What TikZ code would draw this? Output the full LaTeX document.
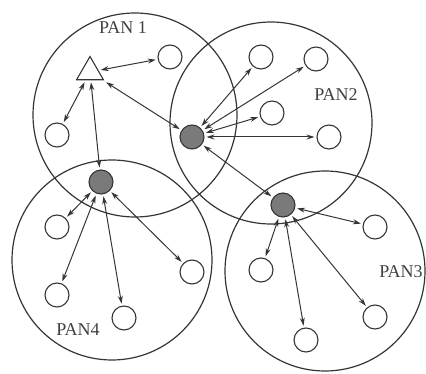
\documentclass[tikz,border=0pt]{standalone}
\usepackage{fontspec}
\setmainfont{Liberation Serif}
\usetikzlibrary{arrows.meta,shapes.geometric}
\definecolor{linec}{HTML}{353535}
\definecolor{hubgray}{HTML}{7A7A7A}
\definecolor{textc}{HTML}{404040}
\begin{document}
\begin{tikzpicture}[x=1pt,y=-1pt,
  pan/.style={draw=linec, line width=1.2pt},
  dev/.style={circle, draw=linec, fill=white, line width=1.1pt, minimum size=24pt, inner sep=0pt, outer sep=2.5pt},
  hub/.style={dev, fill=hubgray},
  gate/.style={regular polygon, regular polygon sides=3, draw=linec, fill=white, line width=1.1pt, minimum size=31pt, inner sep=0pt, outer sep=2.5pt},
  link/.style={draw=linec, line width=1pt, {Stealth[length=8pt,width=5pt]}-{Stealth[length=8pt,width=5pt]}},
  lbl/.style={font=\fontsize{18}{18}\selectfont, text=textc, inner sep=0pt}
]
\useasboundingbox (0,0) rectangle (426,374);

% PAN coverage areas
\draw[pan] (135,115) circle[radius=102];
\draw[pan] (271,123) circle[radius=101];
\draw[pan] (112,260) circle[radius=100];
\draw[pan] (325,271) circle[radius=100];

% devices
\node[gate] (t)  at (90,72) {};
\node[dev]  (a1) at (170,57) {};
\node[dev]  (a2) at (57,135) {};
\node[hub]  (h2) at (192,137) {};
\node[hub]  (h4) at (101,182) {};
\node[hub]  (h3) at (283,205) {};
\node[dev]  (b1) at (261,57) {};
\node[dev]  (b2) at (316,59) {};
\node[dev]  (b3) at (272,113) {};
\node[dev]  (b4) at (329,137) {};
\node[dev]  (c1) at (375,227) {};
\node[dev]  (c2) at (261,270) {};
\node[dev]  (c3) at (375,317) {};
\node[dev]  (c4) at (306,340) {};
\node[dev]  (d1) at (57,227) {};
\node[dev]  (d2) at (57,295) {};
\node[dev]  (d3) at (124,318) {};
\node[dev]  (d4) at (192,272) {};

% links
\draw[link] (t) -- (a1);
\draw[link] (t) -- (a2);
\draw[link] (t) -- (h4);
\draw[link] (t) -- (h2);
\draw[link] (h2) -- (b1);
\draw[link] (h2) -- (b2);
\draw[link] (h2) -- (b3);
\draw[link] (h2) -- (b4);
\draw[link] (h2) -- (h3);
\draw[link] (h3) -- (c1);
\draw[link] (h3) -- (c2);
\draw[link] (h3) -- (c3);
\draw[link] (h3) -- (c4);
\draw[link] (h4) -- (d1);
\draw[link] (h4) -- (d2);
\draw[link] (h4) -- (d3);
\draw[link] (h4) -- (d4);

% labels
\node[lbl] (l1) at (123,28) {PAN 1};
\node[lbl] (l2) at (336,95) {PAN2};
\node[lbl] (l3) at (401,272) {PAN3};
\node[lbl] (l4) at (78,330) {PAN4};
\end{tikzpicture}
\end{document}
